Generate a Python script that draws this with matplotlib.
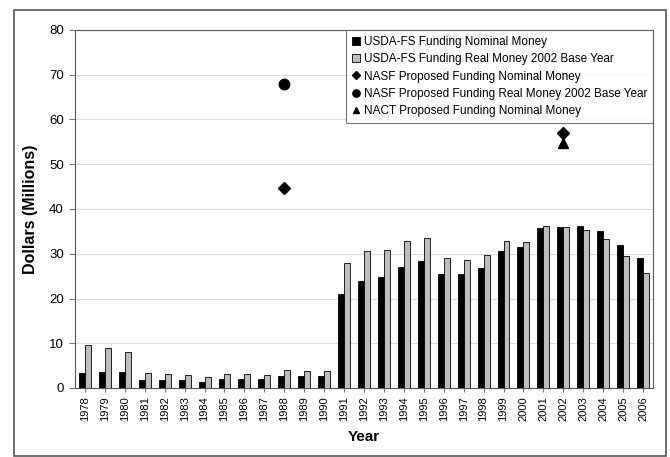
import numpy as np
import matplotlib
matplotlib.use("Agg")
import matplotlib.pyplot as plt
from matplotlib.patches import Rectangle

plt.rcParams["font.family"] = ["Liberation Sans", "DejaVu Sans"]

years = list(range(1978, 2007))

# USDA-FS funding, nominal and real (2002 base year), millions of dollars
nominal = [3.4, 3.5, 3.5, 1.7, 1.7, 1.7, 1.4, 2.0, 2.0, 2.0, 2.6, 2.6, 2.6,
           21.0, 23.9, 24.9, 27.1, 28.4, 25.5, 25.5, 26.9, 30.6, 31.4,
           35.7, 36.0, 36.3, 35.0, 32.0, 29.0]
real = [9.7, 9.0, 8.0, 3.4, 3.2, 3.0, 2.5, 3.2, 3.2, 3.0, 4.0, 3.9, 3.7,
        27.9, 30.6, 30.9, 32.9, 33.6, 29.1, 28.6, 29.7, 32.9, 32.7,
        36.3, 36.0, 35.3, 33.3, 29.4, 25.8]

# proposals
nasf_nom_years = [1988, 2002]
nasf_nom = [44.7, 57.0]
nasf_real_years = [1988]
nasf_real = [68.0]
nact_years = [2002]
nact = [54.8]

fig = plt.figure(figsize=(6.7, 4.57), dpi=100)
ax = fig.add_axes([75 / 670, 1 - 388 / 457, (653 - 75) / 670, (388 - 30) / 457])

# outer frame around the whole picture
fig.patches.append(Rectangle((14 / 670, 1 / 457), (666 - 14) / 670, (447 - 1) / 457,
                             transform=fig.transFigure, fill=False,
                             edgecolor="#555555", lw=1.2))

x = np.arange(len(years))
w = 0.3
idx = {y: i for i, y in enumerate(years)}

b1 = ax.bar(x - w / 2, nominal, w, color="black", edgecolor="black", lw=0.6,
            label="USDA-FS Funding Nominal Money", zorder=3)
b2 = ax.bar(x + w / 2, real, w, color="#bdbdbd", edgecolor="black", lw=0.6,
            label="USDA-FS Funding Real Money 2002 Base Year", zorder=3)

l1, = ax.plot([idx[y] for y in nasf_nom_years], nasf_nom, "D", color="black", ms=6,
              ls="none", label="NASF Proposed Funding Nominal Money", zorder=4)
l2, = ax.plot([idx[y] for y in nasf_real_years], nasf_real, "o", color="black", ms=7.5,
              ls="none", label="NASF Proposed Funding Real Money 2002 Base Year", zorder=4)
l3, = ax.plot([idx[y] for y in nact_years], nact, "^", color="black", ms=7,
              ls="none", label="NACT Proposed Funding Nominal Money", zorder=4)

ax.set_xlim(-0.5, len(years) - 0.5)
ax.set_ylim(0, 80)
ax.set_yticks(range(0, 81, 10))
ax.set_xticks(x)
ax.set_xticklabels([str(y) for y in years], rotation=90, fontsize=8)
ax.tick_params(axis="y", labelsize=9.5, length=4, color="#777777", pad=4)
ax.tick_params(axis="x", length=3, color="#777777", pad=3)
ax.yaxis.grid(True, color="#dddddd", lw=0.8, zorder=0)

for s in ax.spines.values():
    s.set_color("#555555")

ax.set_ylabel("Dollars (Millions)", fontsize=11.5, fontweight="bold", labelpad=8)
ax.set_xlabel("Year", fontsize=11, fontweight="bold", labelpad=6)

handles = [b1, b2, l1, l2, l3]
leg = ax.legend(handles, [h.get_label() for h in handles],
                loc="upper right", fontsize=8.5, frameon=True, fancybox=False,
                handlelength=0.7, handletextpad=0.3, borderpad=0.5,
                labelspacing=0.45, markerscale=0.7,
                bbox_to_anchor=(1.0, 1.0), borderaxespad=0.0)
leg.get_frame().set_edgecolor("#555555")
leg.get_frame().set_linewidth(0.8)

fig.savefig("out.png", dpi=100)
